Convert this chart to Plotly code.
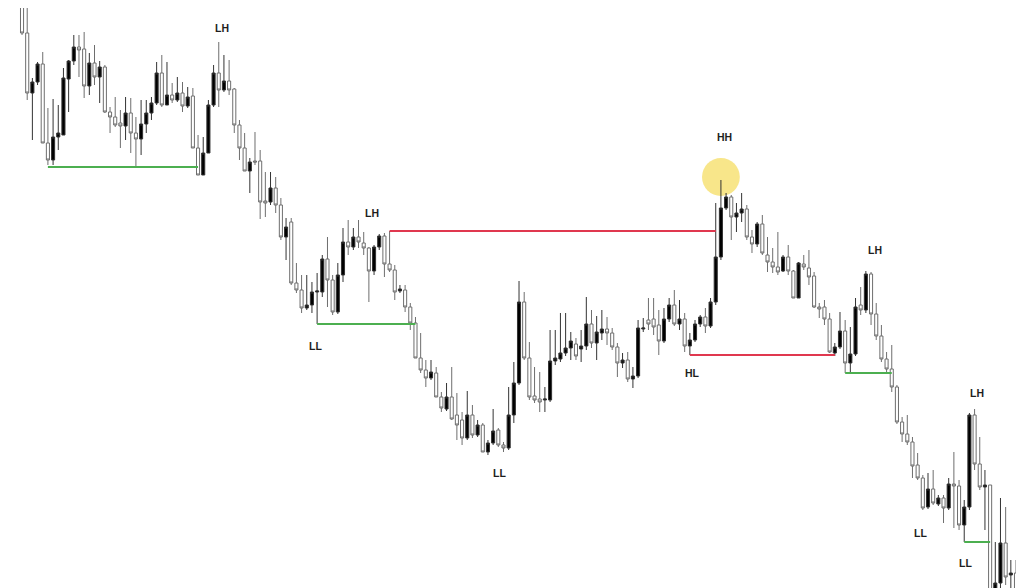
import plotly.graph_objects as go

# candle prices (arbitrary units) left to right
opens = [640, 660, 640, 650, 630, 567, 507, 518, 536, 457, 440, 463, 465, 521, 539, 553, 551, 514, 537, 523,
         533, 488, 483, 477, 474, 487, 467, 461, 476, 487, 497, 527, 495, 505, 500, 507, 494, 504, 452, 425,
         447, 495, 527, 510, 519, 511, 475, 452, 429, 439, 439, 399, 398, 412, 395, 363, 378, 317, 310, 292,
         295, 308, 308, 341, 320, 288, 325, 358, 353, 363, 357, 352, 329, 353, 364, 336, 330, 309, 310, 293,
         277, 242, 230, 222, 227, 203, 191, 203, 185, 180, 162, 185, 165, 175, 148, 157, 170, 155, 152, 185,
         217, 298, 242, 204, 201, 200, 200, 239, 241, 247, 252, 256, 251, 254, 276, 257, 267, 271, 267, 253,
         237, 240, 221, 224, 271, 280, 281, 275, 259, 281, 295, 276, 281, 254, 260, 276, 283, 274, 298, 343,
         392, 403, 383, 387, 391, 363, 356, 376, 345, 338, 333, 329, 343, 329, 302, 336, 332, 324, 293, 293,
         281, 247, 253, 269, 237, 246, 295, 290, 326, 286, 264, 241, 231, 213, 178, 166, 158, 135, 122, 93,
         111, 96, 102, 92, 116, 114, 75, 93, 185, 136, 113, 115, 0, 17, 57, 25, 27, 10]
highs = [650, 670, 680, 660, 640, 592, 522, 538, 548, 492, 501, 495, 532, 540, 565, 565, 568, 547, 555, 539,
         535, 493, 503, 490, 503, 502, 483, 500, 500, 503, 538, 545, 538, 517, 523, 518, 513, 512, 465, 463,
         500, 535, 558, 545, 540, 512, 480, 467, 442, 468, 450, 428, 428, 423, 402, 382, 382, 337, 325, 325,
         318, 327, 345, 363, 325, 337, 372, 380, 372, 380, 368, 353, 355, 366, 367, 369, 335, 315, 315, 297,
         283, 267, 240, 240, 233, 208, 217, 233, 207, 188, 209, 195, 180, 177, 160, 191, 172, 158, 213, 238,
         319, 308, 258, 233, 228, 213, 270, 270, 287, 287, 268, 262, 270, 303, 290, 284, 290, 283, 272, 257,
         247, 248, 233, 280, 282, 302, 302, 290, 292, 302, 310, 300, 287, 267, 280, 285, 292, 302, 397, 420,
         407, 405, 397, 407, 395, 370, 378, 385, 363, 352, 368, 345, 355, 330, 338, 345, 350, 328, 297, 300,
         287, 257, 288, 280, 273, 302, 313, 329, 328, 297, 275, 248, 255, 215, 183, 185, 163, 147, 125, 127,
         130, 105, 105, 122, 148, 120, 100, 187, 191, 163, 130, 115, 58, 102, 93, 40, 40, 25]
lows = [583, 620, 630, 597, 565, 500, 460, 515, 457, 435, 435, 450, 465, 488, 535, 523, 502, 505, 515, 497,
        487, 467, 473, 452, 460, 447, 433, 445, 467, 480, 495, 493, 495, 497, 498, 488, 492, 452, 425, 425,
        447, 493, 493, 508, 505, 467, 440, 429, 407, 435, 381, 383, 395, 387, 360, 340, 315, 307, 287, 290,
        287, 276, 303, 293, 285, 286, 318, 345, 350, 352, 345, 298, 325, 350, 323, 328, 300, 307, 288, 270,
        242, 227, 213, 220, 203, 188, 189, 180, 160, 155, 160, 162, 163, 148, 145, 155, 153, 148, 150, 177,
        215, 240, 200, 197, 188, 188, 198, 235, 238, 244, 240, 240, 238, 250, 252, 240, 260, 255, 250, 223,
        232, 218, 212, 222, 268, 270, 265, 245, 257, 278, 274, 270, 248, 245, 258, 273, 267, 272, 295, 340,
        390, 360, 368, 378, 360, 347, 353, 345, 328, 327, 325, 328, 325, 302, 302, 330, 315, 292, 282, 275,
        247, 244, 251, 227, 227, 244, 285, 287, 275, 260, 238, 227, 208, 176, 158, 155, 122, 120, 90, 91,
        95, 94, 77, 90, 72, 70, 58, 90, 130, 110, 70, 0, -5, 10, 15, 12, -10, -15]
closes = [605, 630, 670, 620, 567, 507, 518, 536, 457, 440, 463, 467, 522, 539, 553, 550, 514, 537, 523, 533,
          488, 483, 475, 474, 487, 467, 461, 476, 487, 497, 527, 495, 505, 500, 507, 494, 503, 452, 425, 447,
          495, 527, 510, 519, 510, 475, 452, 429, 438, 438, 398, 397, 412, 395, 363, 373, 317, 310, 292, 295,
          308, 309, 341, 320, 288, 325, 358, 353, 363, 358, 352, 329, 353, 364, 336, 330, 308, 311, 293, 277,
          242, 230, 222, 228, 203, 192, 203, 181, 175, 162, 185, 165, 175, 148, 157, 169, 155, 152, 185, 217,
          298, 242, 203, 200, 198, 201, 239, 242, 247, 252, 259, 244, 254, 276, 257, 268, 271, 267, 253, 237,
          240, 221, 224, 272, 272, 276, 273, 259, 281, 295, 276, 281, 254, 260, 276, 283, 274, 298, 343, 392,
          403, 383, 387, 391, 363, 356, 376, 347, 338, 333, 328, 343, 329, 302, 337, 333, 323, 293, 291, 281,
          248, 253, 269, 237, 246, 293, 290, 326, 286, 264, 241, 231, 213, 178, 166, 158, 134, 122, 92, 111,
          97, 102, 92, 116, 114, 75, 93, 185, 136, 113, 115, 5, 17, 57, 23, 27, 0, -10]

# structure levels: start candle, end candle, price, colour
level_start = [9, 61, 75, 133, 163, 186]
level_end = [38, 80, 138, 161, 172, 191]
level_price = [433, 276, 369, 245, 227, 58]
level_color = ["#4caf50", "#4caf50", "#e0384f", "#e0384f", "#4caf50", "#4caf50"]

# swing labels
label_text = ["LH", "LL", "LH", "LL", "HL", "HH", "LH", "LL", "LH", "LL"]
label_x = [42.6, 60.6, 71.6, 96.3, 133.6, 139.6, 168.8, 177.5, 188.5, 186.3]
label_y = [572, 254, 387, 127, 227, 463, 350, 67, 207, 37]

# highlighted high
hh_x = 139
hh_y = 423

idx = list(range(len(opens)))

fig = go.Figure()
fig.add_trace(go.Candlestick(
    x=idx, open=opens, high=highs, low=lows, close=closes,
    increasing=dict(line=dict(color="#333333", width=1), fillcolor="#000000"),
    decreasing=dict(line=dict(color="#6e6e6e", width=1), fillcolor="#ffffff"),
    whiskerwidth=0,
    showlegend=False,
))

for x0, x1, p, c in zip(level_start, level_end, level_price, level_color):
    fig.add_shape(type="line", x0=x0, x1=x1, y0=p, y1=p,
                  line=dict(color=c, width=2))

fig.add_shape(type="circle", layer="below",
              x0=hh_x - 3.65, x1=hh_x + 3.65, y0=hh_y - 19, y1=hh_y + 19,
              fillcolor="#f8e68a", line=dict(width=0))

for t, x, y in zip(label_text, label_x, label_y):
    fig.add_annotation(x=x, y=y, text="<b>" + t + "</b>", showarrow=False,
                       font=dict(family="Liberation Sans, Arial", size=10.5, color="#1e1e1e"))

# ranges account for the 8px page margin around the plot div
fig.update_layout(
    width=1024, height=588,
    margin=dict(l=0, r=0, t=0, b=0),
    paper_bgcolor="white", plot_bgcolor="white",
    showlegend=False,
    boxgap=0.15,
    xaxis=dict(range=[1.29, 199.09], visible=False, rangeslider=dict(visible=False)),
    yaxis=dict(range=[4, 592], visible=False),
)

fig.write_html("out.html")
